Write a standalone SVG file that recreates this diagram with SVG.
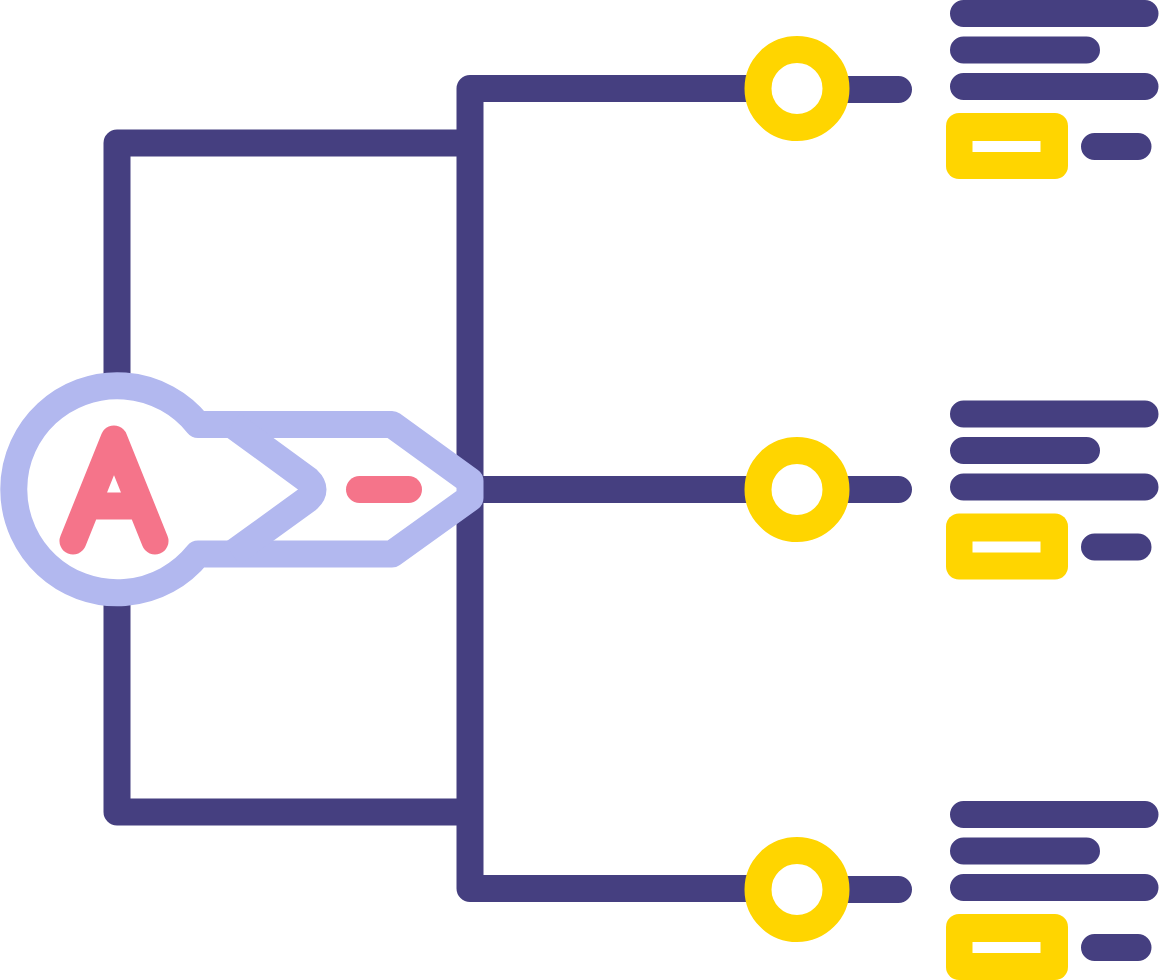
<svg xmlns="http://www.w3.org/2000/svg" width="1159" height="980" viewBox="0 0 1159 980">
<style>
.d{fill:none;stroke:#453f80;stroke-width:27;stroke-linecap:round;stroke-linejoin:round}
.c{fill:#fff;stroke:#ffd500;stroke-width:27}
.y{fill:#ffd500}
.w{fill:#fff}
.k{fill:#fff;stroke:#b2b8ef;stroke-width:27;stroke-linejoin:round}
.h{fill:none;stroke:#b2b8ef;stroke-width:27;stroke-linejoin:round}
.r{fill:none;stroke:#f5748a;stroke-width:27;stroke-linecap:round;stroke-linejoin:round}
</style>
<defs>
<g id="row">
<path class="d" d="M963.500 13.500H1145M963.500 50H1086.500M963.500 86.500H1145M1094.500 146.500H1138"/>
<rect class="y" x="946" y="113" width="122" height="66" rx="13"/>
<rect class="w" x="972.500" y="141" width="68" height="11"/>
</g>
</defs>
<g id="connectors">
<path class="d" d="M470 143V812M470 143H117V375M470 812H117V605M470 143V88.500H760M470 812V888.500H760M470 489.500H760M835 89.500H898.500M835 489.500H898.500M835 889.500H898.500"/>
</g>
<g id="node-a">
<path class="k" d="M198 424.500H392L470 481V498L392 554H198A103.500 103.500 0 1 1 198 424.500Z"/>
<path class="h" d="M232 424.500L308 480Q318 489.500 308 499L232 554"/>
<path class="r" d="M73 541L114 439L155 541M90 506H138"/>
<path class="r" d="M359.500 489.500H408.500"/>
</g>
<g id="node-1"><circle class="c" cx="797" cy="88.500" r="39"/></g>
<g id="node-2"><circle class="c" cx="797" cy="489.500" r="39"/></g>
<g id="node-3"><circle class="c" cx="797" cy="889.500" r="39"/></g>
<g id="list-1"><use href="#row"/></g>
<g id="list-2"><use href="#row" y="400.500"/></g>
<g id="list-3"><use href="#row" y="801"/></g>
</svg>
